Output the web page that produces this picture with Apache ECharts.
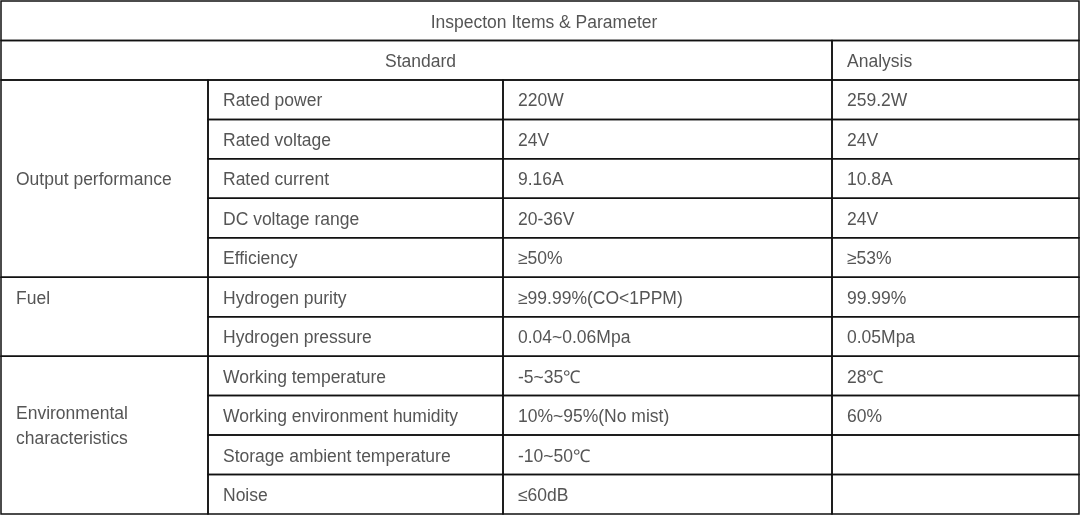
<!DOCTYPE html>
<html>
<head>
<meta charset="utf-8">
<script src="https://cdn.jsdelivr.net/npm/echarts@6/dist/echarts.min.js"></script>
<style>
html,body{margin:0;padding:0;background:#fff;}
#c{width:1082px;height:517px;}
</style>
</head>
<body>
<div id="c"></div>
<script>
// ---- data ----
const tableTitle = 'Inspecton Items & Parameter';
const standardLabel = 'Standard';
const analysisLabel = 'Analysis';
const groups = ['Output performance', 'Fuel', 'Environmental\ncharacteristics'];
const groupSizes = [5, 2, 4];
const items = ['Rated power', 'Rated voltage', 'Rated current', 'DC voltage range', 'Efficiency',
  'Hydrogen purity', 'Hydrogen pressure',
  'Working temperature', 'Working environment humidity', 'Storage ambient temperature', 'Noise'];
const standardValues = ['220W', '24V', '9.16A', '20-36V', '≥50%',
  '≥99.99%(CO<1PPM)', '0.04~0.06Mpa',
  '-5~35℃', '10%~95%(No mist)', '-10~50℃', '≤60dB'];
const analysisValues = ['259.2W', '24V', '10.8A', '24V', '≥53%',
  '99.99%', '0.05Mpa',
  '28℃', '60%', '', ''];

// ---- layout (not data) ----
const colEdges = [0, 207, 502, 831, 1078];
const totalRows = 2 + items.length;
const groupLabelRow = [null, 0.5, 1.74]; // text anchor offset within group (rows), null = centered

// build cells
const cells = [];
cells.push({c0: 0, c1: 4, r0: 0, r1: 1, text: tableTitle, align: 'center'});
cells.push({c0: 0, c1: 3, r0: 1, r1: 2, text: standardLabel, align: 'center'});
cells.push({c0: 3, c1: 4, r0: 1, r1: 2, text: analysisLabel, align: 'left'});
let r = 2;
groups.forEach((g, gi) => {
  const n = groupSizes[gi];
  const off = groupLabelRow[gi];
  cells.push({c0: 0, c1: 1, r0: r, r1: r + n, text: g, align: 'left',
    textRow: off == null ? r + n / 2 : r + off});
  r += n;
});
items.forEach((it, i) => {
  cells.push({c0: 1, c1: 2, r0: 2 + i, r1: 3 + i, text: it, align: 'left'});
  cells.push({c0: 2, c1: 3, r0: 2 + i, r1: 3 + i, text: standardValues[i], align: 'left'});
  cells.push({c0: 3, c1: 4, r0: 2 + i, r1: 3 + i, text: analysisValues[i], align: 'left'});
});

const seriesData = cells.map(c => ({
  value: [colEdges[c.c0], colEdges[c.c1], c.r0, c.r1, c.textRow == null ? (c.r0 + c.r1) / 2 : c.textRow],
  text: c.text, align: c.align
}));

const chart = echarts.init(document.getElementById('c'), null, {renderer: 'canvas'});
chart.setOption({
  animation: false,
  backgroundColor: '#fff',
  grid: {left: 1, right: 3, top: 1, bottom: 3},
  xAxis: {type: 'value', min: 0, max: 1078, show: false},
  yAxis: {type: 'value', min: 0, max: totalRows, inverse: true, show: false},
  series: [{
    type: 'custom',
    silent: true,
    data: seriesData,
    renderItem: function (params, api) {
      const d = seriesData[params.dataIndex];
      const p0 = api.coord([api.value(0), api.value(2)]);
      const p1 = api.coord([api.value(1), api.value(3)]);
      const ty = api.coord([0, api.value(4)])[1];
      const isCenter = d.align === 'center';
      return {
        type: 'group',
        children: [{
          type: 'rect',
          shape: {x: p0[0], y: p0[1], width: p1[0] - p0[0], height: p1[1] - p0[1]},
          style: {fill: 'none', stroke: '#111', lineWidth: 1.5}
        }, {
          type: 'text',
          x: isCenter ? (p0[0] + p1[0]) / 2 + 4 : p0[0] + 15,
          y: ty + 2,
          style: {
            text: d.text,
            fill: '#555',
            font: '17.5px "Liberation Sans", Arial, sans-serif',
            lineHeight: 25,
            align: isCenter ? 'center' : 'left',
            verticalAlign: 'middle'
          }
        }]
      };
    }
  }]
});
</script>
</body>
</html>
